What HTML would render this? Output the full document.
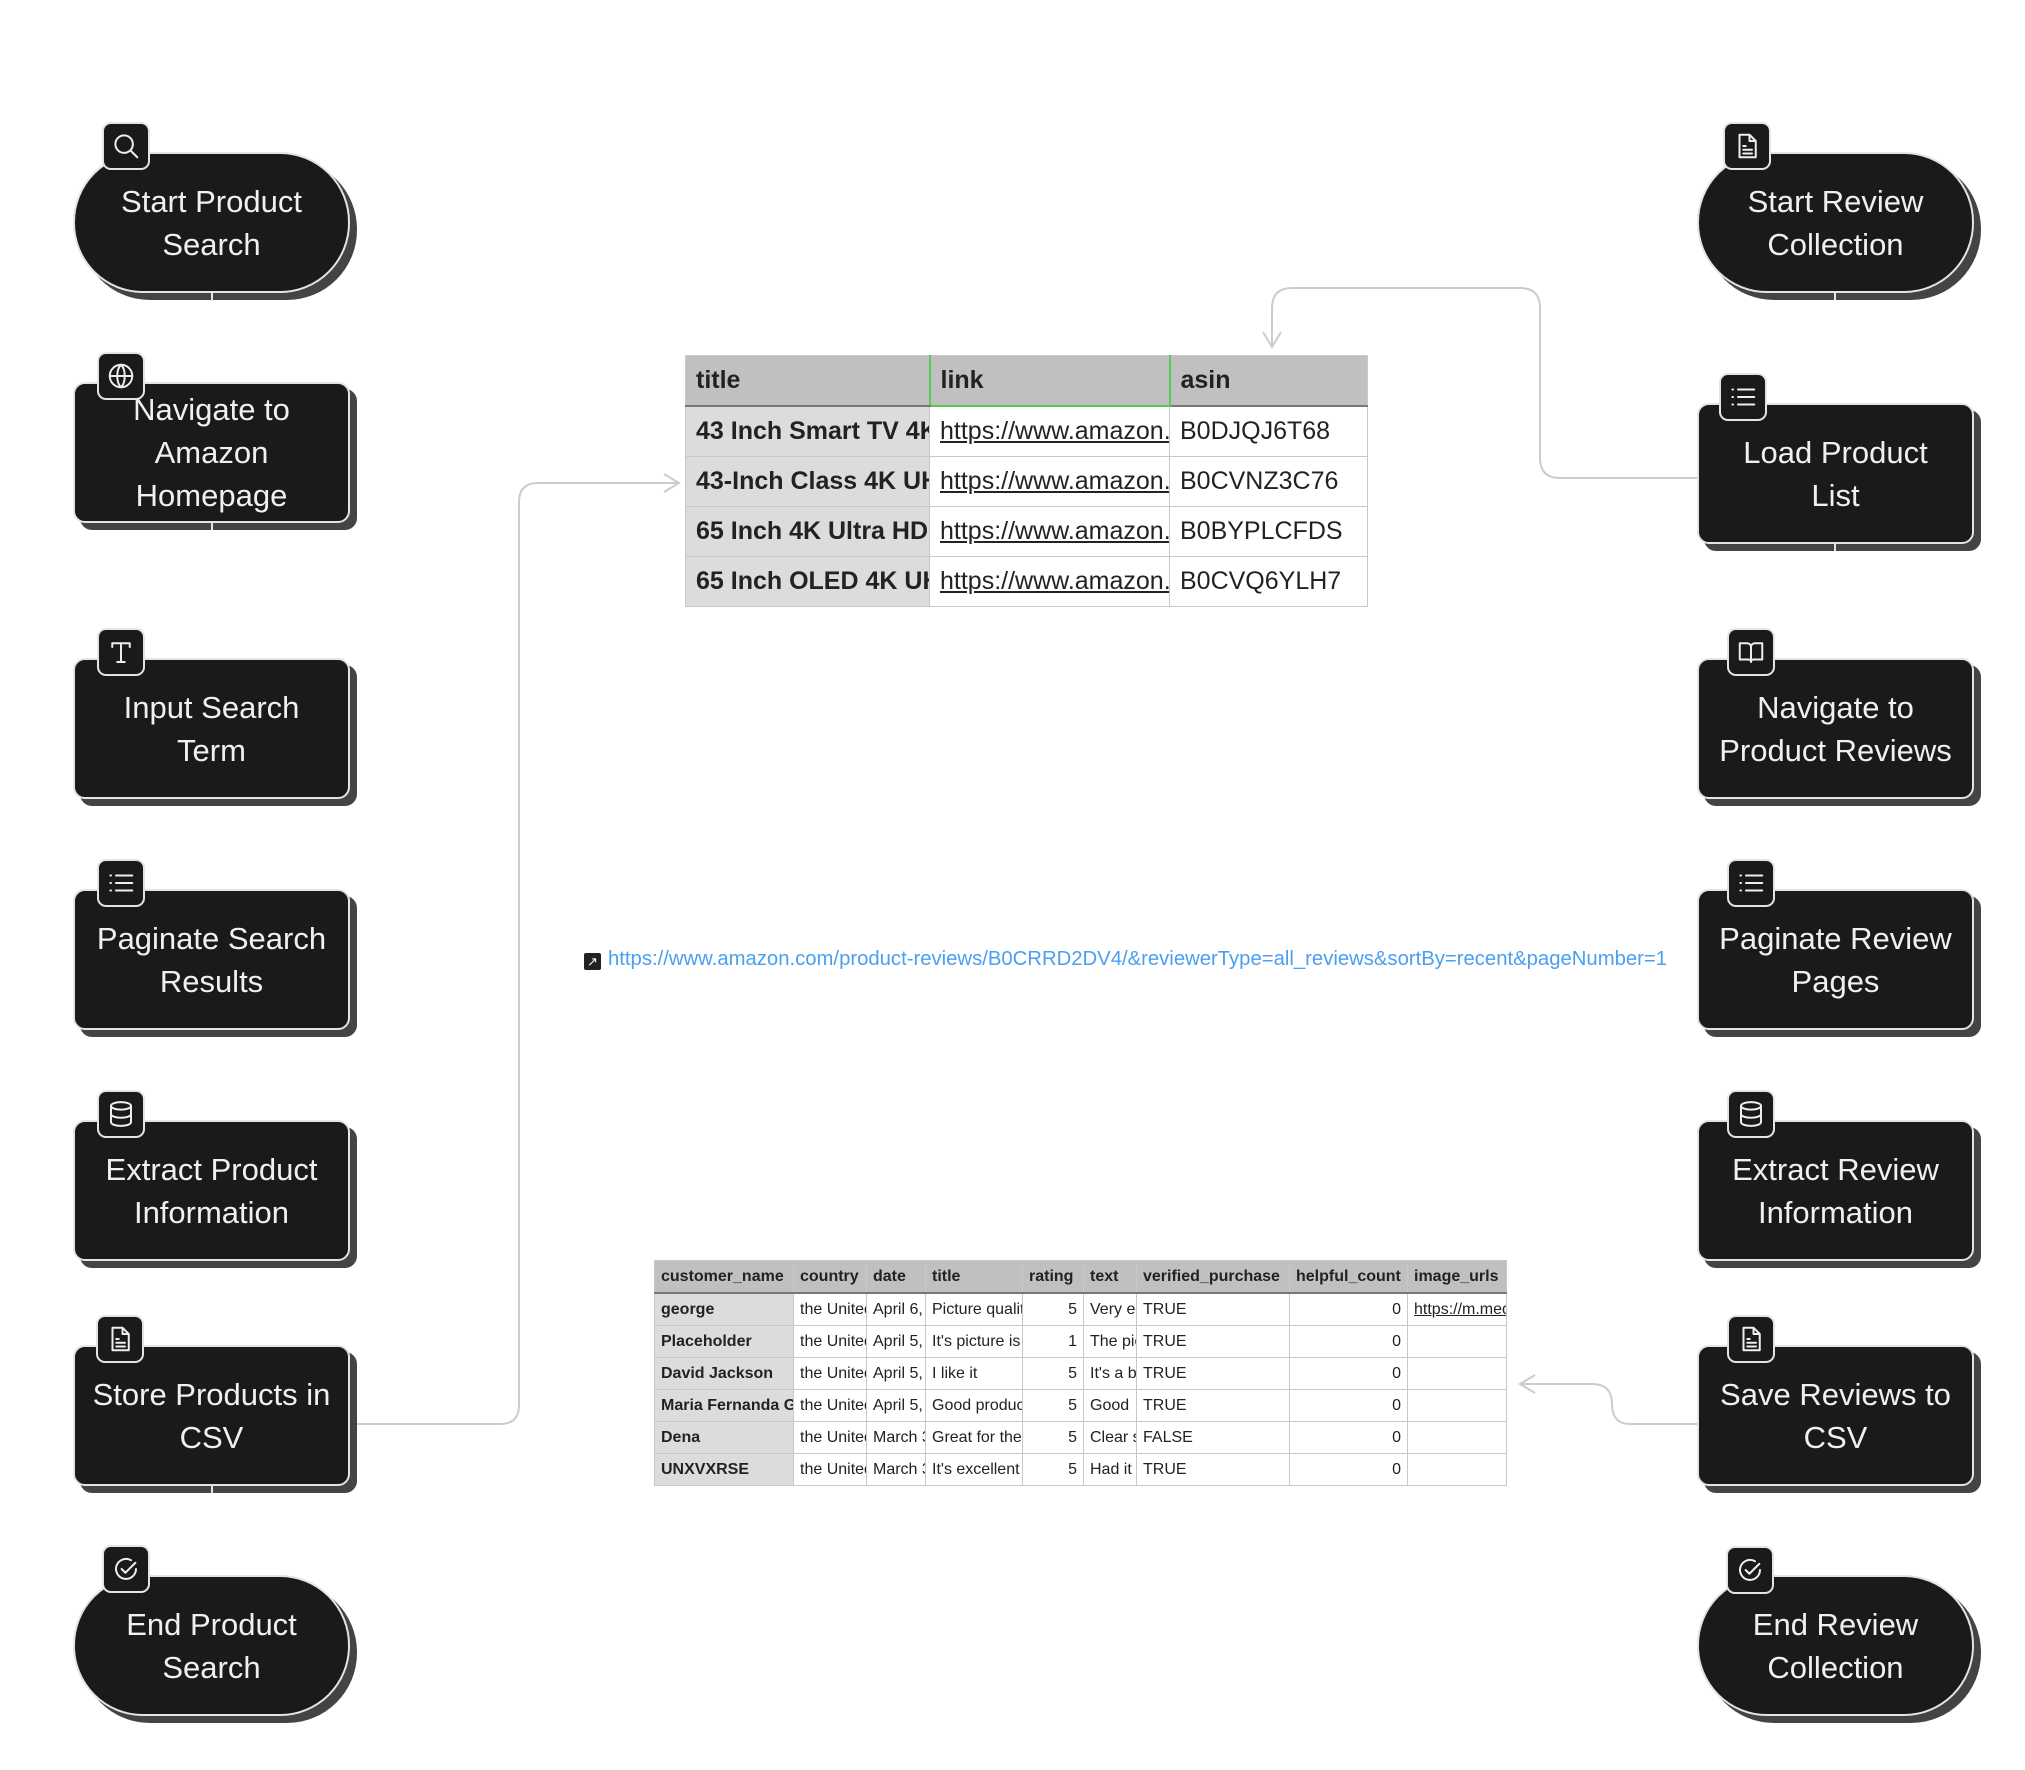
<!DOCTYPE html>
<html><head><meta charset="utf-8"><style>
html,body{margin:0;padding:0;background:#fff;}
body{width:2025px;height:1770px;position:relative;overflow:hidden;font-family:"Liberation Sans",Arial,sans-serif;}
.n{position:absolute;width:277px;height:141px;background:#1a1a1a;border:2px solid #e4e4e4;border-radius:12px;box-shadow:7px 7px 0 #444;color:#f0f0f0;font-size:31px;line-height:43px;text-align:center;display:flex;align-items:center;justify-content:center;box-sizing:border-box;}
.p{border-radius:70px;}
.ic{position:absolute;width:48px;height:48px;background:#1a1a1a;border:2px solid #e4e4e4;border-radius:9px;box-sizing:border-box;display:flex;align-items:center;justify-content:center;}
.ic svg{width:30px;height:30px;stroke:#eee;fill:none;stroke-width:1.6;stroke-linecap:round;stroke-linejoin:round;}
.stub{position:absolute;width:2px;height:8px;background:#e4e4e4;}
table{border-collapse:collapse;position:absolute;table-layout:fixed;}
td{overflow:hidden;white-space:nowrap;}
.t1 td{border:1.5px solid #c8c8c8;height:49px;font-size:25px;padding:0 10px;color:#222;}
.t1 tr:first-child td{background:#c0c0c0;font-weight:bold;border-bottom:2px solid #777;}
.t1 td.h{background:#dcdcdc;font-weight:bold;}
.t1 td.u{text-decoration:underline;}
.t2 td{border:1.3px solid #c8c8c8;height:31px;font-size:16px;padding:0 6px;color:#222;}
.t2 tr:first-child td{background:#c0c0c0;font-weight:bold;border-bottom:2px solid #777;}
.t2 td.h{background:#dcdcdc;font-weight:bold;}
.t2 td.r{text-align:right;}
</style></head><body>

<svg width="2025" height="1770" style="position:absolute;left:0;top:0" fill="none" stroke="#ccc" stroke-width="2">
<path d="M352 1424 H500 Q519 1424 519 1405 V502 Q519 483 538 483 H678"/>
<path d="M664 474 L679 483 L664 492"/>
<path d="M1705 478 H1560 Q1540 478 1540 458 V308 Q1540 288 1520 288 H1292 Q1272 288 1272 308 V346"/>
<path d="M1263 332 L1272 347 L1281 332"/>
<path d="M1705 1424 H1630 Q1612 1424 1612 1404 Q1612 1384 1592 1384 H1521"/>
<path d="M1535 1375 L1520 1384 L1535 1393"/>
</svg>

<!-- Left column -->
<div class="n p" style="left:73px;top:152px">Start Product<br>Search</div>
<div class="ic" style="left:102px;top:122px"><svg viewBox="0 0 24 24"><circle cx="10.5" cy="10.5" r="7"/><path d="M16 16l5 5"/></svg></div>
<div class="stub" style="left:211px;top:293px"></div>

<div class="n" style="left:73px;top:382px">Navigate to<br>Amazon<br>Homepage</div>
<div class="ic" style="left:97px;top:352px"><svg viewBox="0 0 24 24"><circle cx="12" cy="12" r="9"/><path d="M3 12h18M12 3c-4 4-4 14 0 18M12 3c4 4 4 14 0 18"/></svg></div>
<div class="stub" style="left:211px;top:522px"></div>

<div class="n" style="left:73px;top:658px">Input Search<br>Term</div>
<div class="ic" style="left:97px;top:628px"><svg viewBox="0 0 24 24"><path d="M5 5h14M5 5v3M19 5v3M12 5v15M9 20h6"/></svg></div>

<div class="n" style="left:73px;top:889px">Paginate Search<br>Results</div>
<div class="ic" style="left:97px;top:859px"><svg viewBox="0 0 24 24"><path d="M8 6h13M8 12h13M8 18h13M3.5 6h.5M3.5 12h.5M3.5 18h.5"/></svg></div>

<div class="n" style="left:73px;top:1120px">Extract Product<br>Information</div>
<div class="ic" style="left:97px;top:1090px"><svg viewBox="0 0 24 24"><ellipse cx="12" cy="5.5" rx="8" ry="3"/><path d="M4 5.5v13c0 1.7 3.6 3 8 3s8-1.3 8-3v-13M4 12c0 1.7 3.6 3 8 3s8-1.3 8-3"/></svg></div>

<div class="n" style="left:73px;top:1345px">Store Products in<br>CSV</div>
<div class="ic" style="left:96px;top:1315px"><svg viewBox="0 0 24 24"><path d="M6 3h8l5 5v13H6z M14 3v5h5M9 12h2M9 15h7M9 18h7"/></svg></div>
<div class="stub" style="left:211px;top:1485px"></div>

<div class="n p" style="left:73px;top:1575px">End Product<br>Search</div>
<div class="ic" style="left:102px;top:1545px"><svg viewBox="0 0 24 24"><path d="M20 12a8 8 0 1 1-4-7"/><path d="M8.5 12l3 3 8-8"/></svg></div>

<!-- Right column -->
<div class="n p" style="left:1697px;top:152px">Start Review<br>Collection</div>
<div class="ic" style="left:1723px;top:122px"><svg viewBox="0 0 24 24"><path d="M6 3h8l5 5v13H6z M14 3v5h5M9 12h2M9 15h7M9 18h7"/></svg></div>
<div class="stub" style="left:1834px;top:292px"></div>

<div class="n" style="left:1697px;top:403px">Load Product<br>List</div>
<div class="ic" style="left:1719px;top:373px"><svg viewBox="0 0 24 24"><path d="M8 6h13M8 12h13M8 18h13M3.5 6h.5M3.5 12h.5M3.5 18h.5"/></svg></div>
<div class="stub" style="left:1834px;top:543px"></div>

<div class="n" style="left:1697px;top:658px">Navigate to<br>Product Reviews</div>
<div class="ic" style="left:1727px;top:628px"><svg viewBox="0 0 24 24"><path d="M3 5h6a3 3 0 0 1 3 3v12a2 2 0 0 0-2-2H3zM21 5h-6a3 3 0 0 0-3 3v12a2 2 0 0 1 2-2h7z"/></svg></div>

<div class="n" style="left:1697px;top:889px">Paginate Review<br>Pages</div>
<div class="ic" style="left:1727px;top:859px"><svg viewBox="0 0 24 24"><path d="M8 6h13M8 12h13M8 18h13M3.5 6h.5M3.5 12h.5M3.5 18h.5"/></svg></div>

<div class="n" style="left:1697px;top:1120px">Extract Review<br>Information</div>
<div class="ic" style="left:1727px;top:1090px"><svg viewBox="0 0 24 24"><ellipse cx="12" cy="5.5" rx="8" ry="3"/><path d="M4 5.5v13c0 1.7 3.6 3 8 3s8-1.3 8-3v-13M4 12c0 1.7 3.6 3 8 3s8-1.3 8-3"/></svg></div>

<div class="n" style="left:1697px;top:1345px">Save Reviews to<br>CSV</div>
<div class="ic" style="left:1727px;top:1315px"><svg viewBox="0 0 24 24"><path d="M6 3h8l5 5v13H6z M14 3v5h5M9 12h2M9 15h7M9 18h7"/></svg></div>

<div class="n p" style="left:1697px;top:1575px">End Review<br>Collection</div>
<div class="ic" style="left:1726px;top:1546px"><svg viewBox="0 0 24 24"><path d="M20 12a8 8 0 1 1-4-7"/><path d="M8.5 12l3 3 8-8"/></svg></div>

<!-- Table 1 -->
<table class="t1" style="left:685px;top:355px;width:682px">
<colgroup><col style="width:244px"><col style="width:240px"><col style="width:198px"></colgroup>
<tr><td>title</td><td style="border-left:2px solid #5c5;border-right:2px solid #5c5;border-bottom:2px solid #5c5">link</td><td>asin</td></tr>
<tr><td class="h">43 Inch Smart TV 4K UHD</td><td class="u">https://www.amazon.com</td><td>B0DJQJ6T68</td></tr>
<tr><td class="h">43-Inch Class 4K UHD</td><td class="u">https://www.amazon.com</td><td>B0CVNZ3C76</td></tr>
<tr><td class="h">65 Inch 4K Ultra HD</td><td class="u">https://www.amazon.com</td><td>B0BYPLCFDS</td></tr>
<tr><td class="h">65 Inch OLED 4K UHD</td><td class="u">https://www.amazon.com</td><td>B0CVQ6YLH7</td></tr>
</table>

<!-- Link -->
<div style="position:absolute;left:584px;top:953px;width:17px;height:17px;background:#222;border-radius:2px;color:#fff;font-size:13px;line-height:17px;text-align:center">↗</div>
<div style="position:absolute;left:608px;top:948px;font-size:20.3px;color:#4a9ff0;white-space:nowrap">https://www.amazon.com/product-reviews/B0CRRD2DV4/&amp;reviewerType=all_reviews&amp;sortBy=recent&amp;pageNumber=1</div>

<!-- Table 2 -->
<table class="t2" style="left:654px;top:1260px;width:852px">
<colgroup><col style="width:139px"><col style="width:73px"><col style="width:59px"><col style="width:97px"><col style="width:61px"><col style="width:53px"><col style="width:153px"><col style="width:118px"><col style="width:99px"></colgroup>
<tr><td>customer_name</td><td>country</td><td>date</td><td>title</td><td>rating</td><td>text</td><td>verified_purchase</td><td>helpful_count</td><td>image_urls</td></tr>
<tr><td class="h">george</td><td>the United States</td><td>April 6, 2024</td><td>Picture quality</td><td class="r">5</td><td>Very easy</td><td>TRUE</td><td class="r">0</td><td style="text-decoration:underline">https://m.media</td></tr>
<tr><td class="h">Placeholder</td><td>the United States</td><td>April 5, 2024</td><td>It's picture is</td><td class="r">1</td><td>The picture</td><td>TRUE</td><td class="r">0</td><td></td></tr>
<tr><td class="h">David Jackson</td><td>the United States</td><td>April 5, 2024</td><td>I like it</td><td class="r">5</td><td>It's a big</td><td>TRUE</td><td class="r">0</td><td></td></tr>
<tr><td class="h">Maria Fernanda G</td><td>the United States</td><td>April 5, 2024</td><td>Good product</td><td class="r">5</td><td>Good</td><td>TRUE</td><td class="r">0</td><td></td></tr>
<tr><td class="h">Dena</td><td>the United States</td><td>March 30</td><td>Great for the</td><td class="r">5</td><td>Clear sound</td><td>FALSE</td><td class="r">0</td><td></td></tr>
<tr><td class="h">UNXVXRSE</td><td>the United States</td><td>March 30</td><td>It's excellent</td><td class="r">5</td><td>Had it</td><td>TRUE</td><td class="r">0</td><td></td></tr>
</table>

</body></html>
